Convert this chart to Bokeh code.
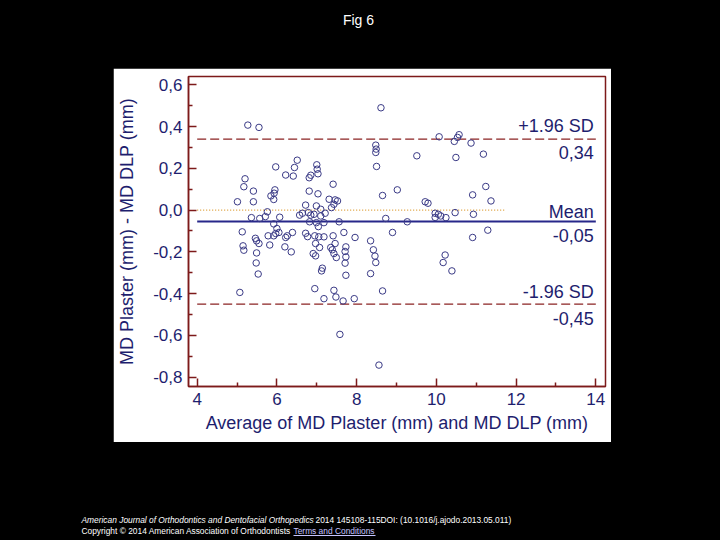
import numpy as np
from bokeh.plotting import figure
from bokeh.layouts import column, row
from bokeh.models import Range1d, FixedTicker, Label, BoxAnnotation, ColumnDataSource
from bokeh.embed import file_html
from bokeh.resources import INLINE

# ---------------- data ----------------
avg_mm = [5.27, 5.55, 5.97, 6.44, 6.51, 6.22, 6.41, 5.20, 5.17, 5.41, 5.95, 5.93, 5.85, 5.92,
          5.01, 5.41, 5.76, 5.36, 5.57, 5.71, 6.07, 5.92, 5.13, 6.00, 5.15, 5.17, 5.46, 5.49,
          5.55, 5.49, 5.48, 5.53, 5.07, 5.78, 5.82, 5.92, 5.97, 6.05, 6.22, 6.26, 6.20, 6.36,
          6.39,
          7.00, 7.01, 7.03, 6.85, 6.81, 7.41, 6.81, 7.03, 7.31, 7.46, 7.52, 7.43, 7.37, 6.72,
          6.99, 7.10, 6.64, 6.57, 6.79, 6.85, 6.93, 7.10, 7.21, 6.82, 6.99, 7.04, 7.18, 7.56,
          6.72, 6.77, 6.95, 7.05, 7.18, 7.41, 7.68, 7.96, 6.97, 7.07, 7.46, 7.35, 7.39, 7.73,
          7.71, 6.91, 6.97, 7.43, 7.49, 7.73, 7.71, 7.14, 7.12, 7.73, 6.95, 7.43, 7.48, 7.18,
          7.66, 7.94, 7.58,
          8.61, 8.48, 8.49, 8.48, 8.50, 8.65, 9.02, 8.73, 8.90, 8.35, 8.42, 8.46, 8.48, 8.35,
          8.65, 8.56, 9.51, 10.07, 10.57, 10.53, 10.45, 10.87, 10.49, 11.18, 11.24, 10.91,
          11.37, 9.72, 9.79, 10.47, 10.93, 9.97, 10.05, 9.97, 10.11, 10.24, 9.27, 11.29, 10.91,
          10.22, 10.17, 10.39]
diff_mm = [0.407, 0.396, 0.207, 0.204, 0.239, 0.168, 0.163, 0.150, 0.112, 0.091, 0.097, 0.081,
           0.068, 0.051, 0.040, 0.040, -0.008, -0.036, -0.040, -0.031, -0.034, -0.066, -0.104,
           -0.088, -0.171, -0.192, -0.135, -0.147, -0.160, -0.205, -0.253, -0.306, -0.394,
           -0.123, -0.167, -0.123, -0.112, -0.107, -0.131, -0.123, -0.176, -0.200, -0.107,
           0.217, 0.196, 0.174, 0.167, 0.155, 0.124, 0.091, 0.078, 0.052, 0.049, 0.044, 0.028,
           0.012, 0.024, 0.020, 0.004, -0.015, -0.024, -0.012, -0.024, -0.020, -0.028, -0.015,
           -0.056, -0.060, -0.079, -0.060, -0.056, -0.111, -0.127, -0.123, -0.128, -0.128,
           -0.123, -0.107, -0.131, -0.160, -0.179, -0.160, -0.179, -0.190, -0.176, -0.198,
           -0.208, -0.219, -0.208, -0.227, -0.224, -0.254, -0.278, -0.291, -0.312, -0.376,
           -0.384, -0.416, -0.424, -0.435, -0.424, -0.595,
           0.490, 0.311, 0.292, 0.276, 0.209, 0.070, 0.097, -0.040, -0.107, -0.147, -0.190,
           -0.220, -0.251, -0.304, -0.387, -0.742, 0.260, 0.351, 0.361, 0.348, 0.329, 0.321,
           0.252, 0.268, 0.113, 0.073, 0.044, 0.040, 0.033, -0.012, -0.020, -0.015, -0.020,
           -0.035, -0.028, -0.036, -0.056, -0.096, -0.131, -0.215, -0.251, -0.291]

mean_diff = -0.055
upper_loa = 0.34
lower_loa = -0.45
mean_text = "-0,05"
upper_text = "0,34"
lower_text = "-0,45"
ref_line_x = [4, 14]
zero_line_x = [4, 11.75]
zero_line_y = [0, 0]

x_ticks = [4, 6, 8, 10, 12, 14]
x_minor = [5, 7, 9, 11, 13]
y_ticks = [-0.8, -0.6, -0.4, -0.2, 0.0, 0.2, 0.4, 0.6]
y_minor = [-0.7, -0.5, -0.3, -0.1, 0.1, 0.3, 0.5]
y_tick_labels = ["-0,8", "-0,6", "-0,4", "-0,2", "0,0", "0,2", "0,4", "0,6"]

title_text = "Fig 6"
footer_journal = "American Journal of Orthodontics and Dentofacial Orthopedics"
footer_ref = "2014 145108-115DOI: (10.1016/j.ajodo.2013.05.011)"
footer_copy = "Copyright \u00a9 2014 American Association of Orthodontists"
footer_link = "Terms and Conditions"

# ---------------- layout (page pixels) ----------------
PAGE_W, PAGE_H = 720, 540
PL, PT, PR, PB = 113, 68, 611, 442          # white picture panel
FL, FT, FR, FB = 188, 76, 605, 386          # plot frame
X0, X1 = 3.782, 14.243
Y0, Y1 = -0.8445, 0.6397

NAVY = "#1e1e6e"
MAROON = "#7d1a1a"
FONT = "Liberation Sans"
BLACK_STYLE = {"background-color": "black"}


def black_box(w, h):
    f = figure(width=w, height=h, output_backend="svg", toolbar_location=None,
               x_axis_location=None, y_axis_location=None, min_border=0,
               x_range=Range1d(0, w), y_range=Range1d(h, 0), styles=BLACK_STYLE)
    f.border_fill_color = "black"
    f.background_fill_color = "black"
    f.outline_line_color = None
    f.xgrid.visible = False
    f.ygrid.visible = False
    return f


# ---- main chart (the white picture) ----
p = figure(width=PR - PL, height=PB - PT, output_backend="svg", toolbar_location=None,
           x_range=Range1d(X0, X1), y_range=Range1d(Y0, Y1),
           min_border_left=FL - PL, min_border_right=PR - FR,
           min_border_top=FT - PT, min_border_bottom=PB - FB)
p.border_fill_color = "white"
p.background_fill_color = "white"
p.outline_line_color = MAROON
p.outline_line_width = 1.5
p.xgrid.visible = False
p.ygrid.visible = False

for ax in (p.xaxis[0], p.yaxis[0]):
    ax.axis_line_color = MAROON
    ax.axis_line_width = 1.5
    ax.major_tick_line_color = MAROON
    ax.minor_tick_line_color = MAROON
    ax.major_tick_line_width = 1.5
    ax.minor_tick_line_width = 1.5
    ax.major_tick_in = 8
    ax.major_tick_out = 0
    ax.minor_tick_in = 4
    ax.minor_tick_out = 0
    ax.major_label_text_color = NAVY
    ax.major_label_text_font = FONT
    ax.major_label_text_font_size = "17px"
    ax.axis_label_text_color = NAVY
    ax.axis_label_text_font = FONT
    ax.axis_label_text_font_size = "18px"
    ax.axis_label_text_font_style = "normal"

p.xaxis.ticker = FixedTicker(ticks=x_ticks, minor_ticks=x_minor)
p.yaxis.ticker = FixedTicker(ticks=y_ticks, minor_ticks=y_minor)
p.yaxis.major_label_overrides = {t: s for t, s in zip(y_ticks, y_tick_labels)}
p.xaxis.major_label_standoff = 6
p.yaxis.major_label_standoff = 6
p.xaxis.axis_label = "Average of MD Plaster (mm) and MD DLP (mm)"
p.yaxis.axis_label = "MD Plaster (mm) - MD DLP (mm)"
p.xaxis.axis_label_standoff = 5
p.yaxis.axis_label_standoff = 13

# reference lines
p.line(zero_line_x, zero_line_y, line_color="#dc9a30", line_width=1.2, line_dash="1 2")
p.line(ref_line_x, [upper_loa, upper_loa], line_color="#8b2323", line_width=1.3, line_dash="9 4")
p.line(ref_line_x, [lower_loa, lower_loa], line_color="#8b2323", line_width=1.3, line_dash="9 4")
p.line(ref_line_x, [mean_diff, mean_diff], line_color="#27278a", line_width=2)

src = ColumnDataSource(dict(x=avg_mm, y=diff_mm))
p.scatter("x", "y", source=src, marker="circle", size=6.5, fill_color=None,
          line_color="#3a3a86", line_width=1)


def side_label(text, yval, off):
    p.add_layout(Label(x=ref_line_x[1], y=yval, x_offset=-2, y_offset=off, text=text,
                       text_align="right", text_baseline="alphabetic", text_color=NAVY,
                       text_font=FONT, text_font_size="18px"))


side_label("+1.96 SD", upper_loa, 13)
side_label(upper_text, upper_loa, -13)
side_label("Mean", mean_diff, 10)
side_label(mean_text, mean_diff, -14)
side_label("-1.96 SD", lower_loa, 12)
side_label(lower_text, lower_loa, -14)

# ---- black page pieces ----
top = black_box(PAGE_W, PT)
top.add_layout(Label(x=358, y=19, text=title_text, text_align="center",
                     text_baseline="alphabetic", text_color="white", text_font=FONT,
                     text_font_size="14px"))

left = black_box(PL, PB - PT)
right = black_box(PAGE_W - PR, PB - PT)

bottom = black_box(PAGE_W, PAGE_H - PB)
b0 = PB
FOOT = "8.4px"
bottom.add_layout(Label(x=81, y=519.5 - b0, text=footer_journal, text_align="left",
                        text_baseline="alphabetic", text_color="white", text_font=FONT,
                        text_font_size=FOOT, text_font_style="italic"))
bottom.add_layout(Label(x=315, y=519.5 - b0, text=footer_ref, text_align="left",
                        text_baseline="alphabetic", text_color="white", text_font=FONT,
                        text_font_size=FOOT))
bottom.add_layout(Label(x=81, y=530.5 - b0, text=footer_copy, text_align="left",
                        text_baseline="alphabetic", text_color="white", text_font=FONT,
                        text_font_size=FOOT))
bottom.add_layout(Label(x=293, y=530.5 - b0, text=footer_link, text_align="left",
                        text_baseline="alphabetic", text_color="#c4c4ff", text_font=FONT,
                        text_font_size=FOOT))
bottom.add_layout(BoxAnnotation(left=293, right=375, top=534.5 - b0, bottom=535.5 - b0,
                                fill_color="#c4c4ff", fill_alpha=1.0, line_alpha=0,
                                editable=False))

layout = column(top, row(left, p, right, spacing=0, styles=BLACK_STYLE), bottom,
                spacing=0, styles=BLACK_STYLE)

open("out.html", "w").write(file_html(layout, INLINE))
